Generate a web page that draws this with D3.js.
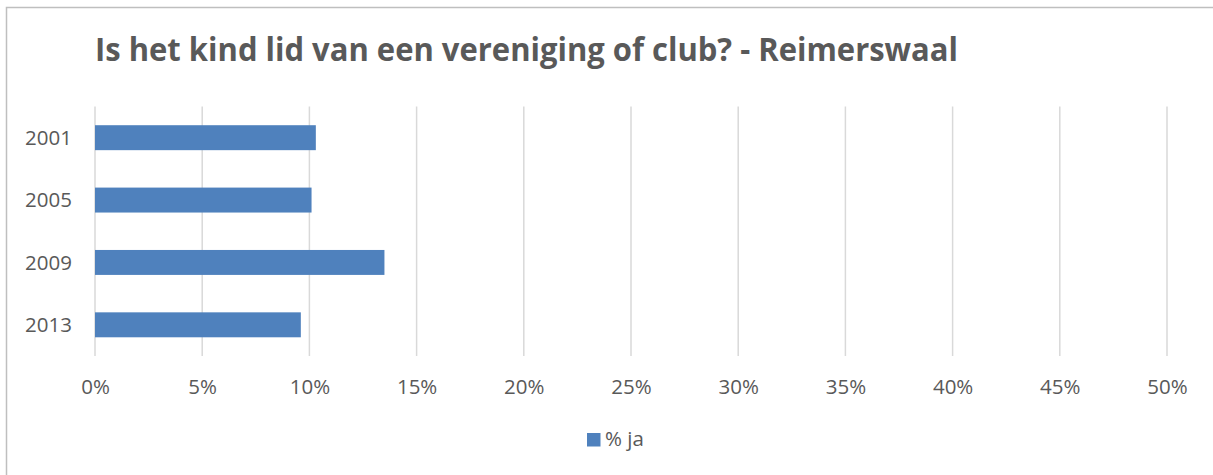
<!DOCTYPE html>
<html>
<head>
<meta charset="utf-8">
<script src="https://cdn.jsdelivr.net/npm/d3@7"></script>
<style>
  html, body { margin: 0; padding: 0; background: #fff; }
  svg { display: block; }
  text { font-family: "Open Sans", "Noto Sans", sans-serif; fill: #595959; }
</style>
</head>
<body>
<svg id="chart" width="1213" height="475"></svg>
<script>
const title = "Is het kind lid van een vereniging of club? - Reimerswaal";
const categories = ["2001", "2005", "2009", "2013"];
const values = [0.103, 0.101, 0.135, 0.096];
const seriesName = "% ja";
const tickValues = [0, 0.05, 0.10, 0.15, 0.20, 0.25, 0.30, 0.35, 0.40, 0.45, 0.50];

const svg = d3.select("#chart");
const W = 1213, H = 475;
const plot = { left: 95, right: 1167, top: 106.5, bottom: 356 };
const barColor = "#4F81BD";

// outer border (cropped at right and bottom)
svg.append("rect")
  .attr("x", 6.5).attr("y", 7.5)
  .attr("width", W + 20).attr("height", H + 20)
  .attr("fill", "none").attr("stroke", "#BFBFBF").attr("stroke-width", 1.5);

const x = d3.scaleLinear().domain([0, 0.5]).range([plot.left, plot.right]);
const y = d3.scaleBand().domain(categories).range([plot.top, plot.bottom])
  .paddingInner(0.6).paddingOuter(0.3);

// gridlines
svg.append("g").selectAll("line").data(tickValues).join("line")
  .attr("x1", d => x(d)).attr("x2", d => x(d))
  .attr("y1", plot.top).attr("y2", plot.bottom)
  .attr("stroke", "#D9D9D9").attr("stroke-width", 1.5);

// x axis tick labels
const xAxis = d3.axisBottom(x).tickValues(tickValues).tickFormat(d3.format(".0%")).tickSize(0).tickPadding(0);
const gx = svg.append("g").attr("transform", `translate(0,${plot.bottom})`).call(xAxis);
gx.select(".domain").remove();
gx.selectAll("text")
  .attr("y", 30.5).attr("dy", "0.35em")
  .style("font-size", "20.5px").style("fill", "#595959")
  .style("font-family", '"Open Sans", sans-serif');

// y axis labels
const yAxis = d3.axisLeft(y).tickSize(0).tickPadding(0);
const gy = svg.append("g").attr("transform", `translate(72,0)`).call(yAxis);
gy.select(".domain").remove();
gy.selectAll("text")
  .attr("x", 0).attr("dy", "0.35em")
  .style("font-size", "20.5px").style("fill", "#595959")
  .style("font-family", '"Open Sans", sans-serif');

// bars
svg.append("g").selectAll("rect").data(categories).join("rect")
  .attr("x", x(0))
  .attr("y", d => y(d))
  .attr("width", (d, i) => x(values[i]) - x(0))
  .attr("height", y.bandwidth())
  .attr("fill", barColor);

// title
const t = svg.append("text")
  .attr("x", 95).attr("y", 61)
  .style("font-size", "33px").style("font-weight", "bold").style("fill", "#595959")
  .text(title);
const tw = t.node().getComputedTextLength();
const target = 863;
if (tw > target) t.attr("textLength", target).attr("lengthAdjust", "spacingAndGlyphs");

// legend
const lg = svg.append("g");
lg.append("rect").attr("x", 587).attr("y", 433).attr("width", 13.5).attr("height", 13.5).attr("fill", barColor);
lg.append("text").attr("x", 605).attr("y", 446)
  .style("font-size", "20.5px").text(seriesName);
</script>
</body>
</html>
